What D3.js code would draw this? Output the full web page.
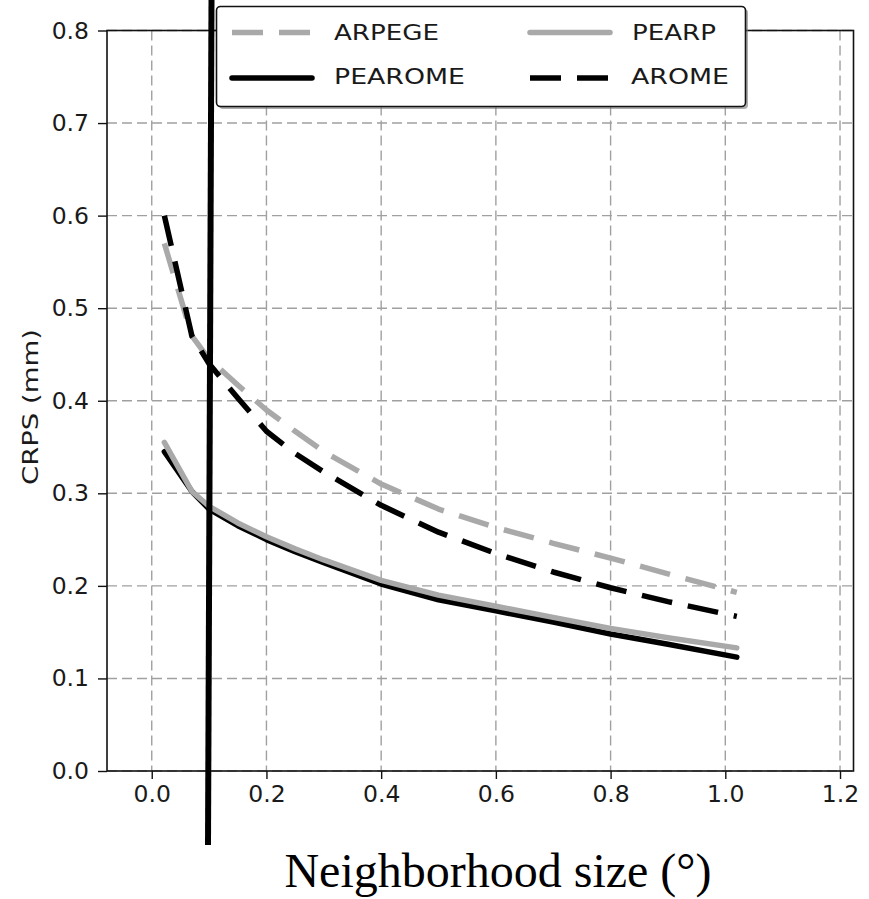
<!DOCTYPE html>
<html>
<head>
<meta charset="utf-8">
<script src="https://cdn.jsdelivr.net/npm/d3@7"></script>
<style>
  html, body { margin: 0; padding: 0; background: #fff; }
  svg { display: block; }
</style>
</head>
<body>
<svg id="chart" width="869" height="899"></svg>
<script>
// ---- data ----
const neighborhoodSizes = [0.022, 0.07, 0.1, 0.15, 0.2, 0.25, 0.3, 0.4, 0.5, 0.6, 0.7, 0.8, 0.9, 1.02];
const arpegeCRPS  = [0.57, 0.47, 0.445, 0.417, 0.39, 0.367, 0.345, 0.31, 0.283, 0.263, 0.246, 0.23, 0.213, 0.193];
const pearomeCRPS = [0.345, 0.302, 0.283, 0.265, 0.25, 0.237, 0.225, 0.202, 0.185, 0.173, 0.161, 0.148, 0.137, 0.123];
const pearpCRPS   = [0.355, 0.302, 0.286, 0.268, 0.253, 0.24, 0.228, 0.206, 0.19, 0.178, 0.166, 0.154, 0.144, 0.133];
const aromeCRPS   = [0.60, 0.47, 0.44, 0.403, 0.367, 0.343, 0.323, 0.287, 0.258, 0.235, 0.215, 0.198, 0.183, 0.167];
const seriesNames = ["ARPEGE", "PEAROME", "PEARP", "AROME"];
const xTickValues = [0.0, 0.2, 0.4, 0.6, 0.8, 1.0, 1.2];
const yTickValues = [0.0, 0.1, 0.2, 0.3, 0.4, 0.5, 0.6, 0.7, 0.8];
const xAxisTitle = "Neighborhood size (°)";
const yAxisTitle = "CRPS (mm)";

// ---- styles ----
const GRAY = "#a9a9a9";
const styles = {
  ARPEGE:  { color: GRAY,   dash: "31,16" },
  PEAROME: { color: "#000", dash: null },
  PEARP:   { color: GRAY,   dash: null },
  AROME:   { color: "#000", dash: "31,16" }
};
const seriesValues = { ARPEGE: arpegeCRPS, PEAROME: pearomeCRPS, PEARP: pearpCRPS, AROME: aromeCRPS };

const svg = d3.select("#chart");
const L = 107, R = 853.5, T = 30.5, B = 771;

const x = d3.scaleLinear().domain([-0.078, 1.2235]).range([L, R]);
const y = d3.scaleLinear().domain([0, 0.8]).range([B, T]);

svg.append("rect").attr("width", 869).attr("height", 899).attr("fill", "#fff");

// grid
const grid = svg.append("g");
grid.selectAll("line.gx").data(xTickValues).enter().append("line")
  .attr("x1", d => x(d)).attr("x2", d => x(d)).attr("y1", T).attr("y2", B)
  .attr("stroke", "#a0a0a0").attr("stroke-width", 1.4).attr("stroke-dasharray", "10,5");
grid.selectAll("line.gy").data(yTickValues).enter().append("line")
  .attr("x1", L).attr("x2", R).attr("y1", d => y(d)).attr("y2", d => y(d))
  .attr("stroke", "#a0a0a0").attr("stroke-width", 1.4).attr("stroke-dasharray", "10,5");

// axes
const xAxis = d3.axisBottom(x).tickValues(xTickValues).tickFormat(d3.format(".1f")).tickSize(8).tickPadding(6);
const yAxis = d3.axisLeft(y).tickValues(yTickValues).tickFormat(d3.format(".1f")).tickSize(9).tickPadding(9);
const gx = svg.append("g").attr("transform", `translate(0,${B})`).call(xAxis);
const gy = svg.append("g").attr("transform", `translate(${L},0)`).call(yAxis);
[gx, gy].forEach(g => {
  g.select(".domain").remove();
  g.selectAll(".tick line").attr("stroke", "#111").attr("stroke-width", 1.4);
  g.selectAll(".tick text").attr("fill", "#1a1a1a")
    .style("font-family", "'DejaVu Sans', sans-serif").style("font-size", "23.5px");
});
gx.selectAll(".tick text").attr("dy", "0.71em");

// frame
svg.append("rect").attr("x", L).attr("y", T).attr("width", R - L).attr("height", B - T)
  .attr("fill", "none").attr("stroke", "#111").attr("stroke-width", 1.6);

// lines
const lineGen = d3.line().x(d => x(d[0])).y(d => y(d[1]));
const plot = svg.append("g");
seriesNames.forEach(name => {
  const pts = neighborhoodSizes.map((v, i) => [v, seriesValues[name][i]]);
  const st = styles[name];
  plot.append("path").attr("d", lineGen(pts))
    .attr("fill", "none").attr("stroke", st.color).attr("stroke-width", 5.5)
    .attr("stroke-linejoin", "round")
    .attr("stroke-linecap", st.dash ? "butt" : "round")
    .attr("stroke-dasharray", st.dash);
});

// legend
const leg = svg.append("g");
leg.append("rect").attr("x", 219).attr("y", 9).attr("width", 529).attr("height", 100).attr("rx", 4)
  .attr("fill", "#777").attr("opacity", 0.6);
leg.append("rect").attr("x", 216.5).attr("y", 6.5).attr("width", 529).attr("height", 100).attr("rx", 4)
  .attr("fill", "#fff").attr("stroke", "#111").attr("stroke-width", 1.6);
const legendLayout = [
  { name: "ARPEGE",  lx: 232, ly: 32.5, tx: 334, ty: 40,  len: 105 },
  { name: "PEAROME", lx: 232, ly: 78,   tx: 334, ty: 84,  len: 131 },
  { name: "PEARP",   lx: 530, ly: 32.5, tx: 632, ty: 40,  len: 84 },
  { name: "AROME",   lx: 530, ly: 78,   tx: 631, ty: 84,  len: 98 }
];
legendLayout.forEach(e => {
  const st = styles[e.name];
  leg.append("line").attr("x1", e.lx).attr("x2", e.lx + 80).attr("y1", e.ly).attr("y2", e.ly)
    .attr("stroke", st.color).attr("stroke-width", 5.5)
    .attr("stroke-linecap", st.dash ? "butt" : "round")
    .attr("stroke-dasharray", st.dash);
  leg.append("text").attr("x", e.tx).attr("y", e.ty).text(e.name)
    .attr("fill", "#1a1a1a")
    .attr("textLength", e.len).attr("lengthAdjust", "spacingAndGlyphs")
    .style("font-family", "'DejaVu Sans', sans-serif").style("font-size", "22px");
});

// axis titles
svg.append("text").attr("transform", "translate(38,407) rotate(-90)")
  .attr("text-anchor", "middle").text(yAxisTitle)
  .attr("fill", "#1a1a1a").attr("textLength", 156).attr("lengthAdjust", "spacingAndGlyphs")
  .style("font-family", "'DejaVu Sans', sans-serif").style("font-size", "20.5px");
svg.append("text").attr("x", 498).attr("y", 887).attr("text-anchor", "middle").text(xAxisTitle)
  .attr("fill", "#000")
  .style("font-family", "'Liberation Serif', 'Times New Roman', serif").style("font-size", "48px");

// thick vertical annotation line
svg.append("line").attr("x1", 211.5).attr("y1", 0).attr("x2", 208).attr("y2", 845)
  .attr("stroke", "#000").attr("stroke-width", 6);
</script>
</body>
</html>
